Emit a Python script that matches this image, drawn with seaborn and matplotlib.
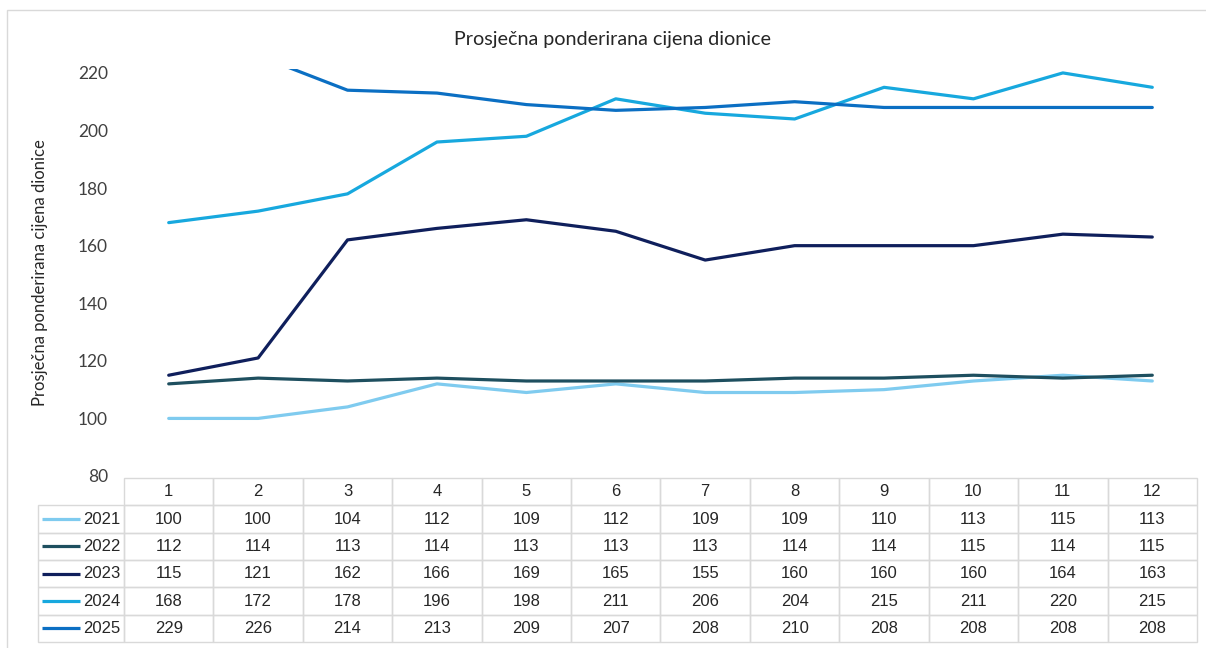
import matplotlib
matplotlib.use('Agg')
import matplotlib.pyplot as plt
from matplotlib.patches import Rectangle
from matplotlib.table import Table
import pandas as pd
import seaborn as sns


months = ['1', '2', '3', '4', '5', '6', '7', '8', '9', '10', '11', '12']
years = ['2021', '2022', '2023', '2024', '2025']
v2021 = [100, 100, 104, 112, 109, 112, 109, 109, 110, 113, 115, 113]
v2022 = [112, 114, 113, 114, 113, 113, 113, 114, 114, 115, 114, 115]
v2023 = [115, 121, 162, 166, 169, 165, 155, 160, 160, 160, 164, 163]
v2024 = [168, 172, 178, 196, 198, 211, 206, 204, 215, 211, 220, 215]
v2025 = [229, 226, 214, 213, 209, 207, 208, 210, 208, 208, 208, 208]
series = [v2021, v2022, v2023, v2024, v2025]
yticks = [80, 100, 120, 140, 160, 180, 200, 220]

colors = ['#7FCBEF', '#1E4F5F', '#0F1F5C', '#17A8DE', '#0B6FC3']

rows = []
for yr, vals in zip(years, series):
    for i, v in enumerate(vals):
        rows.append({'idx': i, 'value': v, 'year': yr})
df = pd.DataFrame(rows)

sns.set_style('white')
plt.rcParams['font.family'] = ['Lato', 'DejaVu Sans']

W, H = 1206, 648
fig = plt.figure(figsize=(W / 100, H / 100), dpi=100)

# axes placement in pixels
ax_l, ax_r, ax_b, ax_t = 124, 1197, 476, 68.6
ax = fig.add_axes([ax_l / W, 1 - ax_b / H, (ax_r - ax_l) / W, (ax_b - ax_t) / H])

sns.lineplot(data=df, x='idx', y='value', hue='year', palette=colors,
             linewidth=2.3, legend=False, ax=ax)

ax.set_xlim(-0.5, 11.5)
ax.set_ylim(80, 221.5)
ax.set_yticks(yticks)
ax.set_xticks([])
ax.set_xlabel('')
ax.set_ylabel('Prosječna ponderirana cijena dionice', fontsize=12, color='#262626')
ax.yaxis.set_label_coords((48 - ax_l) / (ax_r - ax_l), 0.5)
ax.tick_params(axis='y', length=0, pad=11.5, labelsize=12.5, labelcolor='#404040')
for s in ax.spines.values():
    s.set_visible(False)

fig.text(612 / W, 1 - 40 / H, 'Prosječna ponderirana cijena dionice',
         ha='center', va='center', fontsize=14.2, color='#262626')

# data table under the plot
axw = ax_r - ax_l
axh = ax_b - ax_t
tab_l, tab_t, tab_b = 38, 478, 642
lab_w = ax_l - tab_l
col_w = axw / 12
nrows = len(years) + 1
bx = (tab_l - ax_l) / axw
by = -(tab_b - ax_b) / axh
bw = (ax_r - tab_l) / axw
bh = (tab_b - tab_t) / axh
tab = Table(ax, bbox=[bx, by, bw, bh])
tab.auto_set_font_size(False)
tot_w = lab_w + 12 * col_w
rh = 1.0 / nrows
edge = '#D9D9D9'
for r in range(nrows):
    for c in range(13):
        w = (lab_w if c == 0 else col_w) / tot_w
        if r == 0:
            txt = '' if c == 0 else months[c - 1]
        else:
            txt = years[r - 1] if c == 0 else str(series[r - 1][c - 1])
        cell = tab.add_cell(r, c, w, rh, text=txt,
                            loc='right' if c == 0 else 'center',
                            edgecolor=edge, facecolor='none')
        cell.set_linewidth(1.0)
        cell.PAD = 0.04
        cell.get_text().set_fontfamily(['Liberation Sans', 'DejaVu Sans'])
        cell.get_text().set_fontsize(12)
        cell.get_text().set_color('#262626')
        if r == 0 and c == 0:
            cell.visible_edges = ''
ax.add_table(tab)

# legend swatches in the row label column
for i, col in enumerate(colors):
    yc = by + bh - (i + 1.5) * bh / nrows
    ax.plot([(42 - ax_l) / axw, (80 - ax_l) / axw], [yc, yc],
            transform=ax.transAxes, color=col, linewidth=2.3,
            clip_on=False, solid_capstyle='butt')

# light frame around the chart
fig.patches.append(Rectangle((7 / W, -0.05), 1.1, 1 - 10 / H + 0.05,
                             transform=fig.transFigure, fill=False,
                             edgecolor='#D9D9D9', linewidth=1.0))

fig.savefig('out.png', dpi=100)
